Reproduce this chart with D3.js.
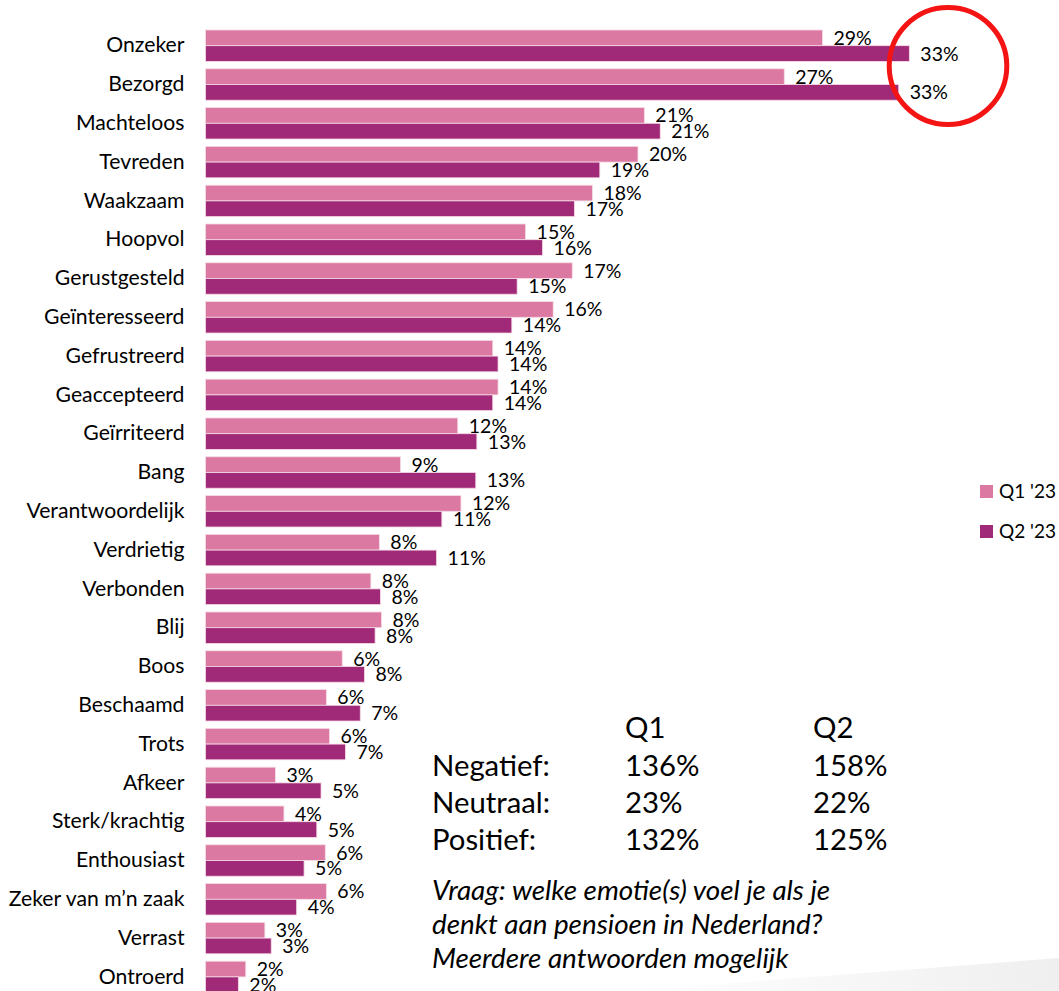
<!DOCTYPE html>
<html>
<head>
<meta charset="utf-8">
<script src="https://cdn.jsdelivr.net/npm/d3@7/dist/d3.min.js"></script>
<style>
  html, body { margin: 0; padding: 0; background: #ffffff; overflow: hidden; }
  svg { display: block; }
  text { font-family: Lato, "Open Sans", "Noto Sans", sans-serif; fill: #000; }
</style>
</head>
<body>
<svg id="chart" width="1059" height="991"></svg>
<script>
// ---- Data ----
const categories = [
  "Onzeker", "Bezorgd", "Machteloos", "Tevreden", "Waakzaam", "Hoopvol",
  "Gerustgesteld", "Geïnteresseerd", "Gefrustreerd", "Geaccepteerd", "Geïrriteerd",
  "Bang", "Verantwoordelijk", "Verdrietig", "Verbonden", "Blij", "Boos",
  "Beschaamd", "Trots", "Afkeer", "Sterk/krachtig", "Enthousiast",
  "Zeker van m’n zaak", "Verrast", "Ontroerd"
];
// Estimated (unrounded) shares in %, labels shown rounded
const q1Values = [29.1, 27.3, 20.7, 20.4, 18.25, 15.1, 17.3, 16.4, 13.55, 13.8, 11.9,
                  9.2, 12.05, 8.2, 7.8, 8.3, 6.45, 5.7, 5.85, 3.3, 3.7, 5.65, 5.7, 2.8, 1.9];
const q2Values = [33.2, 32.7, 21.45, 18.6, 17.4, 15.9, 14.7, 14.45, 13.8, 13.55, 12.8,
                  12.75, 11.15, 10.9, 8.25, 8.0, 7.5, 7.3, 6.6, 5.45, 5.25, 4.65, 4.3, 3.1, 1.55];
const seriesNames = ["Q1 '23", "Q2 '23"];
const seriesColors = ["#DC79A2", "#A12A78"];

const summaryHeaders = ["Q1", "Q2"];
const summaryRows = ["Negatief:", "Neutraal:", "Positief:"];
const summaryQ1 = ["136%", "23%", "132%"];
const summaryQ2 = ["158%", "22%", "125%"];
const questionLines = [
  "Vraag: welke emotie(s) voel je als je",
  "denkt aan pensioen in Nederland?",
  "Meerdere antwoorden mogelijk"
];

// ---- Layout ----
const svg = d3.select("#chart");

// faint slide shadow at bottom right
const defs = svg.append("defs");
const grad = defs.append("linearGradient").attr("id", "shade").attr("x1", "0").attr("x2", "1");
grad.append("stop").attr("offset", "0").attr("stop-color", "#ffffff");
grad.append("stop").attr("offset", "1").attr("stop-color", "#efefef");
svg.append("polygon").attr("points", "630,991 1059,958 1059,991").attr("fill", "url(#shade)");

const x = d3.scaleLinear().domain([0, 40]).range([205.5, 205.5 + 848]);
const y = d3.scaleBand().domain(categories)
  .range([26.3, 26.3 + categories.length * 38.8])
  .paddingInner(0.19).paddingOuter(0.095);
const bw = y.bandwidth();
const half = bw / 2;

const rows = categories.map((c, i) => ({ c, v: [q1Values[i], q2Values[i]] }));

const g = svg.append("g");
// bars
rows.forEach(r => {
  [0, 1].forEach(s => {
    g.append("rect")
      .attr("x", x(0))
      .attr("y", y(r.c) + s * half)
      .attr("width", x(r.v[s]) - x(0))
      .attr("height", half)
      .attr("fill", seriesColors[s])
      .attr("stroke", "#f6dbe6")
      .attr("stroke-width", 0.8);
  });
});
// value labels
rows.forEach(r => {
  [0, 1].forEach(s => {
    g.append("text")
      .attr("x", x(r.v[s]) + 11)
      .attr("y", y(r.c) + s * half + half / 2)
      .attr("dy", "0.36em")
      .attr("font-size", 19.5)
      .text(Math.round(r.v[s]) + "%");
  });
});
// category axis labels
const yAxis = d3.axisLeft(y).tickSize(0).tickPadding(21);
const ax = svg.append("g").attr("transform", `translate(${x(0)},0)`).call(yAxis);
ax.select(".domain").remove();
ax.selectAll("text").attr("font-size", 21.2).attr("fill", "#000")
  .attr("font-family", "Lato, 'Open Sans', sans-serif");

// legend
const leg = svg.append("g");
seriesNames.forEach((n, i) => {
  leg.append("rect").attr("x", 980).attr("y", 485 + i * 40).attr("width", 13).attr("height", 13)
    .attr("fill", seriesColors[i]);
  leg.append("text").attr("x", 999).attr("y", 498 + i * 40).attr("font-size", 19).text(n);
});

// summary table
const tab = svg.append("g");
const colX = [432, 625, 813];
const rowY = [738, 776, 813, 850];
const fs = 29.3;
summaryHeaders.forEach((h, i) => {
  tab.append("text").attr("x", colX[i + 1]).attr("y", rowY[0]).attr("font-size", fs).text(h);
});
summaryRows.forEach((r, i) => {
  tab.append("text").attr("x", colX[0]).attr("y", rowY[i + 1]).attr("font-size", fs).text(r);
  tab.append("text").attr("x", colX[1]).attr("y", rowY[i + 1]).attr("font-size", fs).text(summaryQ1[i]);
  tab.append("text").attr("x", colX[2]).attr("y", rowY[i + 1]).attr("font-size", fs).text(summaryQ2[i]);
});

// question text
questionLines.forEach((l, i) => {
  svg.append("text").attr("x", 432).attr("y", 900 + i * 34)
    .attr("font-size", 27.8).attr("font-style", "italic").text(l);
});

// red highlight circle
svg.append("ellipse").attr("cx", 948).attr("cy", 66).attr("rx", 58.8).attr("ry", 58.5)
  .attr("fill", "none").attr("stroke", "#F41414").attr("stroke-width", 5);
</script>
</body>
</html>
